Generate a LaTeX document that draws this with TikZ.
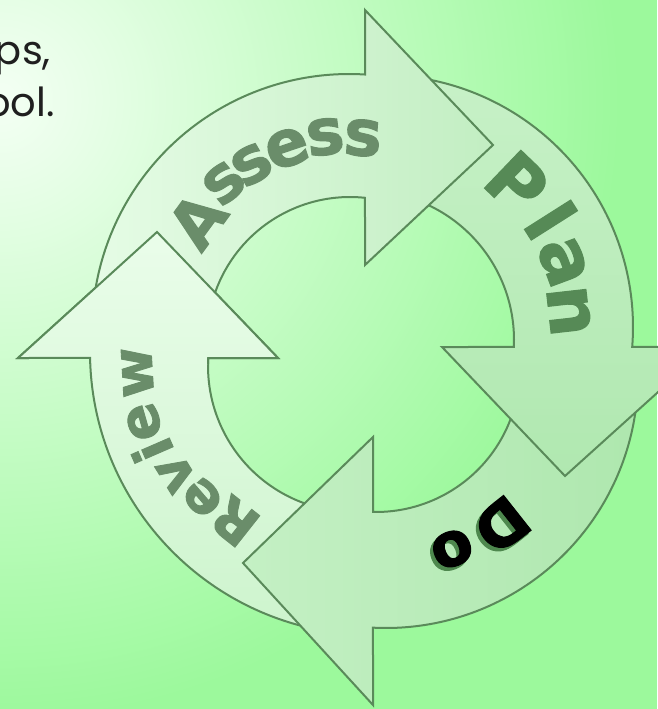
\documentclass[tikz,border=0pt]{standalone}
\usepackage{fontspec}
\newfontfamily\lblfont{DejaVu Sans}[BoldFeatures={FakeBold=1.6}]
\newfontfamily\capfont{Poppins}
\definecolor{bgg}{HTML}{9CF99C}
\definecolor{glow}{HTML}{F4FFF4}
\definecolor{strokeg}{HTML}{5A8A5A}
\definecolor{lettA}{HTML}{6A8D6A}
\definecolor{lettP}{HTML}{568A56}
\definecolor{shadowg}{HTML}{4E884E}
\definecolor{rvT}{HTML}{EAFDEA}
\definecolor{rvB}{HTML}{CDF4CD}
\definecolor{asL}{HTML}{E6FCE6}
\definecolor{asR}{HTML}{C2EEC2}
\definecolor{plT}{HTML}{C7F1C7}
\definecolor{plB}{HTML}{B0E8B0}
\definecolor{doL}{HTML}{C4F0C4}
\definecolor{doR}{HTML}{AEE7AE}
% letter on an arc: style, cx, cy, radius, angle, text, name
\newcommand{\arclett}[7]{\node[#1, rotate={#5-90}] (#7) at ({#2+#4*cos(#5)},{#3+#4*sin(#5)}) {#6};}
\def\AssessShape{({349+257*cos(182)},{-331+257*sin(182)}) arc[start angle=182,end angle=86.43,radius=257] -- (365,-10) -- (493,-145) -- (365,-265) -- ({350+143*cos(83.98)},{-340+143*sin(83.98)}) arc[start angle=83.98,end angle=182,radius=143] -- cycle}
\def\PlanShape{({381+252*cos(91)},{-327+252*sin(91)}) arc[start angle=91,end angle=-4.55,radius=252] -- (708,-347) -- (565,-476) -- (442,-347) -- ({365+149*cos(-2.69)},{-340+149*sin(-2.69)}) arc[start angle=-2.69,end angle=86,radius=149] -- cycle}
\def\DoShape{({386+252*cos(2)},{-376+252*sin(2)}) arc[start angle=2,end angle=-92.96,radius=252] -- (373,-705) -- (243,-563) -- (373,-437) -- ({376+144*cos(-91.19)},{-368+144*sin(-91.19)}) arc[start angle=-91.19,end angle=2,radius=144] -- cycle}
\def\ReviewShape{({373+283*cos(268)},{-352+283*sin(268)}) arc[start angle=268,end angle=181.21,radius=283] -- (18,-358) -- (157,-232) -- (278,-358) -- ({354+146*cos(176.86)},{-366+146*sin(176.86)}) arc[start angle=176.86,end angle=268,radius=146] -- cycle}
\begin{document}
\begin{tikzpicture}[x=1pt,y=1pt,
  arr/.style={draw=strokeg, line width=2pt, line join=miter},
  ltA/.style={font=\lblfont\bfseries\fontsize{64}{68}\selectfont, inner sep=0pt, text=lettA},
  ltP/.style={font=\lblfont\bfseries\fontsize{72}{76}\selectfont, inner sep=0pt, text=lettP},
  ltR/.style={font=\lblfont\bfseries\fontsize{55}{60}\selectfont, inner sep=0pt, text=lettA},
  ltD/.style={font=\lblfont\bfseries\fontsize{61}{65}\selectfont, inner sep=0pt, text=black},
  ltDs/.style={font=\lblfont\bfseries\fontsize{61}{65}\selectfont, inner sep=0pt, text=shadowg},
  capt/.style={font=\capfont\fontsize{40}{44}\selectfont, inner sep=0pt, text=black!88, anchor=base east}
]
\useasboundingbox (0,-709) rectangle (657,0);
% background
\begin{scope}
  \clip (0,-709) rectangle (657,0);
  \fill[bgg] (0,-709) rectangle (657,0);
  \shade[inner color=glow, outer color=bgg] (0,-100) circle (620);
\end{scope}
% caption fragments
\node[capt] (t1) at (51,-65) {ps,};
\node[capt] (t2) at (55,-116) {ool.};
% arrows
\draw[arr, top color=rvT, bottom color=rvB] \ReviewShape;
\draw[arr, left color=doL, right color=doR] \DoShape;
\draw[arr, top color=plT, bottom color=plB] \PlanShape;
\draw[arr, left color=asL, right color=asR] \AssessShape;
\begin{scope}
  \clip (4,-364) -- (157,-220) -- (292,-364) -- cycle;
  \draw[arr, top color=rvT, bottom color=rvB] \ReviewShape;
\end{scope}
% Assess
\arclett{ltA}{349}{-331}{188}{143.9}{A}{a1}
\arclett{ltA}{349}{-331}{193.6}{130.2}{s}{a2}
\arclett{ltA}{349}{-331}{192.8}{120.3}{s}{a3}
\arclett{ltA}{349}{-331}{193}{108.7}{e}{a4}
\arclett{ltA}{349}{-331}{195.5}{97}{s}{a5}
\arclett{ltA}{349}{-331}{193.5}{85.9}{s}{a6}
% Plan
\arclett{ltP}{373}{-333}{208}{46.2}{P}{p1}
\arclett{ltP}{373}{-333}{210.8}{32.4}{l}{p2}
\arclett{ltP}{373}{-333}{202.8}{20.5}{a}{p3}
\arclett{ltP}{373}{-333}{197.2}{6.4}{n}{p4}
% Do (shadow then letters)
\arclett{ltDs}{378}{-375.5}{195}{-51.7}{D}{d1s}
\arclett{ltDs}{378}{-375.5}{190.7}{-68.1}{o}{d2s}
\arclett{ltD}{381}{-372}{195}{-51.7}{D}{d1}
\arclett{ltD}{381}{-372}{190.7}{-68.1}{o}{d2}
% Review
\arclett{ltR}{363}{-359}{207}{231.7}{R}{r1}
\arclett{ltR}{363}{-359}{212}{220.8}{e}{r2}
\arclett{ltR}{363}{-359}{219}{211.5}{v}{r3}
\arclett{ltR}{363}{-359}{230}{203.5}{i}{r4}
\arclett{ltR}{363}{-359}{228}{196}{e}{r5}
\arclett{ltR}{363}{-359}{226}{183.4}{w}{r6}
\end{tikzpicture}
\end{document}
